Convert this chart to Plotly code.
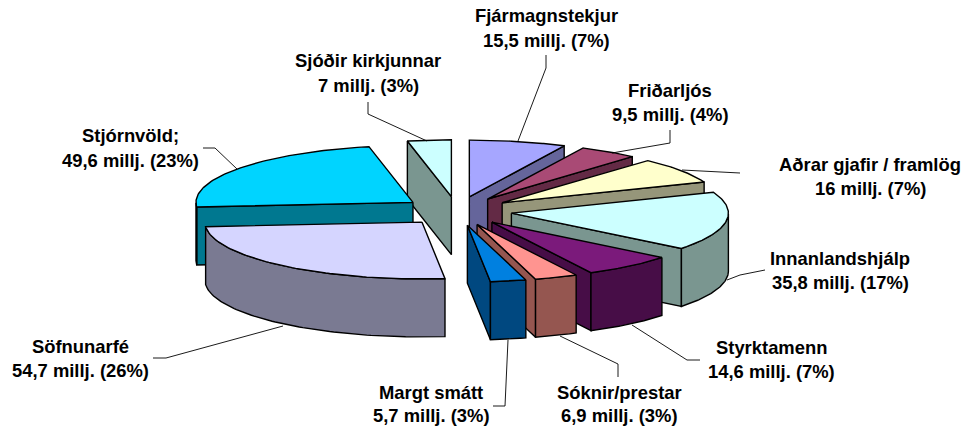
import numpy as np
import plotly.graph_objects as go

categories = ["Fjármagnstekjur", "Friðarljós", "Aðrar gjafir / framlög", "Innanlandshjálp",
              "Styrktamenn", "Sóknir/prestar", "Margt smátt", "Söfnunarfé", "Stjórnvöld;",
              "Sjóðir kirkjunnar"]
values = [15.5, 9.5, 16, 35.8, 14.6, 6.9, 5.7, 54.7, 49.6, 7]
value_labels = ["15,5 millj. (7%)", "9,5 millj. (4%)", "16 millj. (7%)", "35,8 millj. (17%)",
                "14,6 millj. (7%)", "6,9 millj. (3%)", "5,7 millj. (3%)", "54,7 millj. (26%)",
                "49,6 millj. (23%)", "7 millj. (3%)"]
top_colors = ["#A6A6FF", "#A94A75", "#FFFFCC", "#CCFFFF", "#7B1A7B",
              "#FF9490", "#0080E0", "#D5D5FF", "#00D4FF", "#CCFFFF"]
side_colors = ["#65659B", "#632A45", "#96967A", "#7A9690", "#470D47",
               "#955650", "#004880", "#7A7A92", "#007890", "#7A9690"]

# layout of the projected pie, in page pixels
CX, CY, R, K, H, EXPLODE = 457, 211, 217, 0.262, 58, 55
INK = "#000000"
LW = 1.4

# label centres (x, first line y, second line y) and leader lines
label_pos = [(546, 15, 40), (670, 90, 114), (870, 164, 188), (840, 258, 282), (771, 347, 371),
             (619, 392, 415), (431, 392, 415), (80, 346, 370), (130, 135, 160), (368, 60, 85)]
leaders = [
    [(546, 55), (546, 68), (518, 141)],
    [(670, 130), (670, 143), (612, 153)],
    [(740, 173), (682, 170)],
    [(765, 270), (740, 275), (727, 280)],
    [(632, 325), (687, 360), (700, 360)],
    [(560, 336), (618, 364), (618, 377)],
    [(508, 340), (505, 406), (493, 406)],
    [(283, 326), (166, 358), (153, 358)],
    [(237, 169), (215, 148), (203, 148)],
    [(427, 141), (368, 114), (368, 102)],
]

fig = go.Figure()


def face(xs, ys, color):
    fig.add_trace(go.Scatter(x=np.r_[xs, xs[0]], y=np.r_[ys, ys[0]], mode="lines", fill="toself",
                             fillcolor=color, line=dict(color=INK, width=LW), hoverinfo="skip",
                             showlegend=False))


bounds = np.r_[0, np.cumsum(values)] / np.sum(values) * 2 * np.pi
mids = (bounds[:-1] + bounds[1:]) / 2
order = np.argsort(-np.cos(mids))

for i in order:
    a0, a1, m = bounds[i], bounds[i + 1], mids[i]
    ax = CX + EXPLODE * np.sin(m)
    ay = CY - EXPLODE * K * np.cos(m)
    t = np.linspace(a0, a1, 80)
    ex = ax + R * np.sin(t)
    ey = ay - R * K * np.cos(t)

    # radial walls
    if np.sin(a0) < 0:
        face(np.array([ax, ex[0], ex[0], ax]), np.array([ay, ey[0], ey[0] + H, ay + H]), side_colors[i])
    if np.sin(a1) > 0:
        face(np.array([ax, ex[-1], ex[-1], ax]), np.array([ay, ey[-1], ey[-1] + H, ay + H]), side_colors[i])
    # rounded outer wall, the front half only
    front = np.cos(t) < 0
    if front.any():
        fx, fy = ex[front], ey[front]
        face(np.r_[fx, fx[::-1]], np.r_[fy, fy[::-1] + H], side_colors[i])
    # top face
    face(np.r_[ax, ex], np.r_[ay, ey], top_colors[i])

for pts in leaders:
    xs, ys = zip(*pts)
    fig.add_trace(go.Scatter(x=xs, y=ys, mode="lines", line=dict(color=INK, width=0.9),
                             hoverinfo="skip", showlegend=False))

font = dict(family="Liberation Sans, Arial, sans-serif", size=18.4, color="#000000")
for name, val, (x, y1, y2) in zip(categories, value_labels, label_pos):
    for text, y in ((name, y1), (val, y2)):
        fig.add_annotation(x=x, y=y, text=f"<b>{text}</b>", showarrow=False, font=font,
                           xanchor="center", yanchor="middle")

fig.update_xaxes(range=[0, 978], visible=False, fixedrange=True)
fig.update_yaxes(range=[427, 0], visible=False, fixedrange=True)
fig.update_layout(width=978, height=427, margin=dict(l=0, r=0, t=0, b=0),
                  paper_bgcolor="white", plot_bgcolor="white")
fig.write_html("out.html", config={"displayModeBar": False},
               post_script="document.body.style.margin='0';document.documentElement.style.overflow='hidden';")
